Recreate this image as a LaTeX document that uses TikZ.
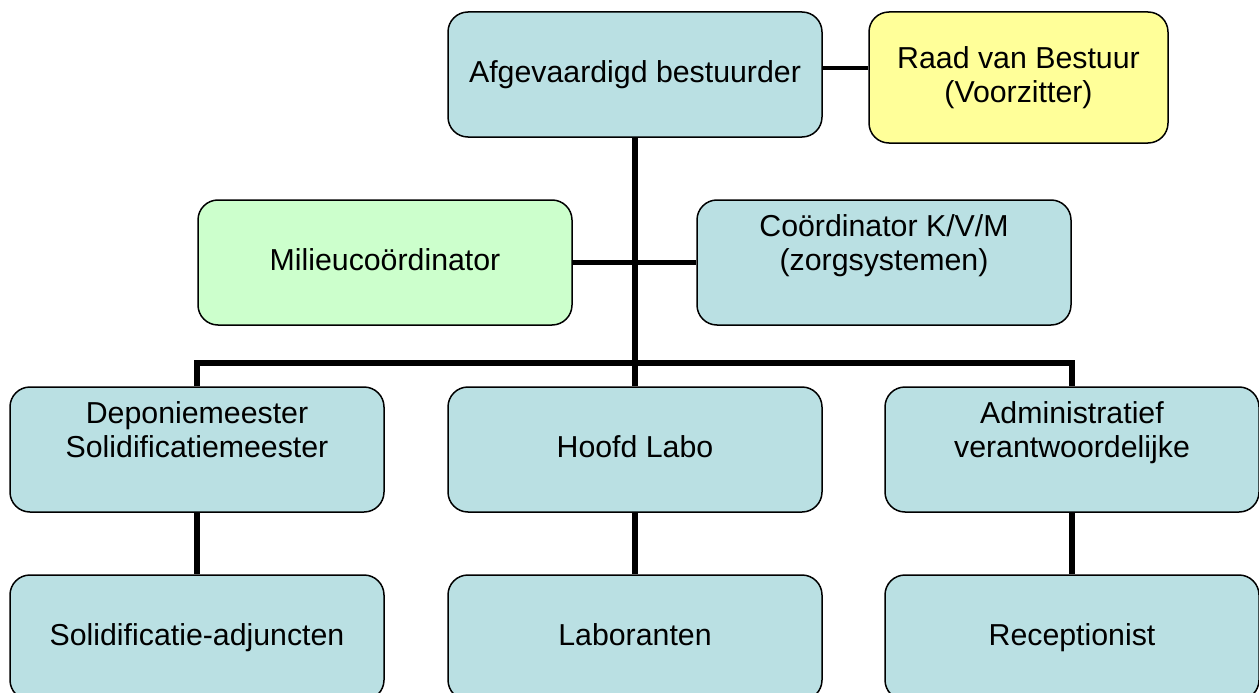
\documentclass[tikz,border=0pt]{standalone}
\usepackage{fontspec}
\setmainfont{Liberation Sans}
\definecolor{boxblue}{HTML}{BAE0E3}
\definecolor{boxyellow}{HTML}{FFFF99}
\definecolor{boxgreen}{HTML}{CCFFCC}
\newcommand{\mystrut}{\rule[-0.2em]{0pt}{0.85em}}
\tikzset{
  orgbox/.style={draw=black, line width=1.5pt, rounded corners=20pt, fill=boxblue,
    minimum width=374pt, minimum height=125pt, align=center, inner sep=0pt,
    font=\fontsize{30.3}{34}\selectfont},
  conn/.style={line width=5.5pt, line join=miter, draw=black}
}
\begin{document}
\begin{tikzpicture}[x=1pt,y=-1pt]
\useasboundingbox (0,0) rectangle (1259,693);
\clip (0,0) rectangle (1259,693);
\coordinate (bus) at (635,363);
% boxes
\node[orgbox] (A) at (635,74.5) {\mystrut Afgevaardigd bestuurder};
\node[orgbox, fill=boxyellow, minimum width=299pt, minimum height=131pt] (R) at (1018.5,77.5) {\mystrut Raad van Bestuur\\\mystrut(Voorzitter)};
\node[orgbox, fill=boxgreen] (M) at (385,262.5) {\mystrut Milieucoördinator};
\node[orgbox] (C) at (884,262.5) {\mystrut Coördinator K/V/M\\\mystrut(zorgsystemen)\\\mystrut};
\node[orgbox] (D) at (197,449.5) {\mystrut Deponiemeester\\\mystrut Solidificatiemeester\\\mystrut};
\node[orgbox] (H) at (635,449.5) {\mystrut Hoofd Labo};
\node[orgbox] (Ad) at (1072,449.5) {\mystrut Administratief\\\mystrut verantwoordelijke\\\mystrut};
\node[orgbox] (S) at (197,637.5) {\mystrut Solidificatie-adjuncten};
\node[orgbox] (L) at (635,637.5) {\mystrut Laboranten};
\node[orgbox] (Rc) at (1072,637.5) {\mystrut Receptionist};
% connectors
\draw[conn, line width=4.5pt] ([yshift=6.5pt]A.east) -- ([yshift=6.5pt]A.east -| R.west);
\draw[conn] (A.south) -- (H.north);
\draw[conn] (M.east) -- (C.west);
\draw[conn] (D.north) -- (D.north |- bus) -- (Ad.north |- bus) -- (Ad.north);
\draw[conn] (D.south) -- (S.north);
\draw[conn] (H.south) -- (L.north);
\draw[conn] (Ad.south) -- (Rc.north);
\end{tikzpicture}
\end{document}
